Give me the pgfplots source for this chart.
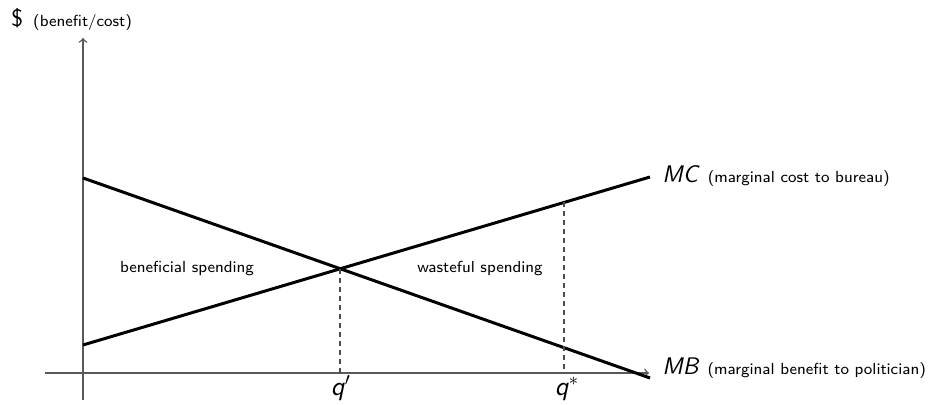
\documentclass[border=0pt]{standalone}
\usepackage{pgfplots}
\pgfplotsset{compat=1.18}
\renewcommand{\familydefault}{\sfdefault}
\newcommand{\lbl}{\fontsize{8.0}{10}\selectfont}
\newcommand{\sym}[1]{\fontsize{12}{14}\selectfont\textit{#1}}
\begin{document}
\begin{tikzpicture}
\begin{axis}[
    x=0.5pt, y=0.5pt,
    axis lines=middle,
    axis line style={draw=black!65, line width=0.7pt, -to},
    xmin=-38, xmax=566, ymin=-27, ymax=335,
    ticks=none,
    clip=false,
]
% marginal benefit to the politician (falling) and marginal cost to the bureau (rising)
\addplot[black, line width=1.5pt] coordinates {(0,195) (567,-5)};
\addplot[black, line width=1.5pt] coordinates {(0,28) (567,196)};
% guides down to the quantity axis
\addplot[black!70, line width=0.6pt, dash pattern=on 2.5pt off 2pt] coordinates {(257,104.2) (257,0)};
\addplot[black!70, line width=0.6pt, dash pattern=on 2.5pt off 2pt] coordinates {(481,170.5) (481,0)};

\node[anchor=base west, inner sep=0pt] at (axis cs:-72,346)
  {{\fontsize{12}{14}\selectfont\$}\hspace{5pt}{\lbl(benefit/cost)}};
\node[anchor=base, inner sep=0pt] at (axis cs:258,-23) {\fontsize{13.5}{15}\selectfont\textit{q}$^{\prime}$};
\node[anchor=base, inner sep=0pt] at (axis cs:484,-23) {\fontsize{13.5}{15}\selectfont\textit{q}$^{*}$};
\node[anchor=base west, inner sep=0pt] at (axis cs:579,190)
  {\sym{MC}\hspace{4pt}{\lbl(marginal cost to bureau)}};
\node[anchor=base west, inner sep=0pt] at (axis cs:579,-2)
  {\sym{MB}\hspace{4pt}{\lbl(marginal benefit to politician)}};
\node[anchor=base, inner sep=0pt] at (axis cs:104,100) {\lbl beneficial spending};
\node[anchor=base, inner sep=0pt] at (axis cs:397,100) {\lbl wasteful spending};

\coordinate (bbBL) at (axis cs:-83,-32);
\coordinate (bbTR) at (axis cs:845,373);
\end{axis}
\pgfresetboundingbox
\path (bbBL) rectangle (bbTR);
\end{tikzpicture}
\end{document}
